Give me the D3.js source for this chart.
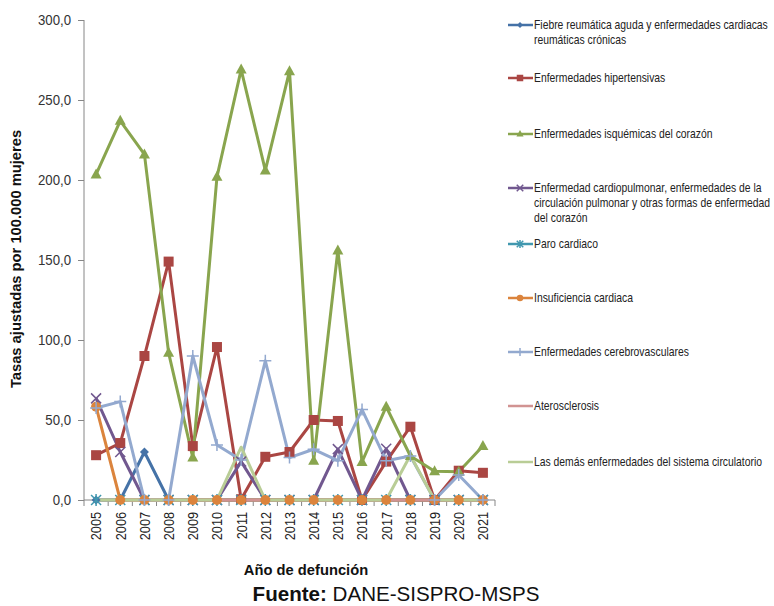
<!DOCTYPE html>
<html><head><meta charset="utf-8">
<script src="https://cdn.jsdelivr.net/npm/d3@7"></script>
<style>
body{margin:0;background:#fff;}
svg{font-family:"Liberation Sans",Arial,sans-serif;}
</style></head>
<body><svg id="c" width="774" height="606"></svg>
<script>
const years = ["2005","2006","2007","2008","2009","2010","2011","2012","2013","2014","2015","2016","2017","2018","2019","2020","2021"];
const seriesNames = [
 "Fiebre reumática aguda y enfermedades cardiacas reumáticas crónicas",
 "Enfermedades hipertensivas",
 "Enfermedades isquémicas del corazón",
 "Enfermedad cardiopulmonar, enfermedades de la circulación pulmonar y otras formas de enfermedad del corazón",
 "Paro cardiaco",
 "Insuficiencia cardiaca",
 "Enfermedades cerebrovasculares",
 "Aterosclerosis",
 "Las demás enfermedades del sistema circulatorio"
];
const fiebre      = [0,0,30,0,0,0,0,0,0,0,0,0,0,0,0,0,0];
const hipertens   = [28,35.6,90,149,33.7,95.6,0.5,27,30,50,49.4,0,24,45.8,0,18.3,17];
const isquemicas  = [203.5,237,216,92,26.5,202,269,206,268,24.5,156,23.8,58.3,27.5,18,17.7,33.8];
const cardiopulm  = [63.5,30,0,0,0,0,24,0,0,0,31.8,0,32,0,0,0,0];
const paro        = [0,0,0,0,0,0,0,0,0,0,0,0,0,0,0,0,0];
const insuf       = [58.3,0,0,0,0,0,0,0,0,0,0,0,0,0,0,0,0];
const cerebro     = [57.5,61.5,0,0,90,34.4,25,87,26.5,31.7,24.6,56.5,24.5,27.5,0,15.6,0];
const ateros      = [0,0,0,0,0,0,0,0,0,0,0,0,0,0,0,0,0];
const demas       = [0,0,0,0,0,0,33,0,0,0,0,0,0,28,0,0,0];
const yTicks = [0,50,100,150,200,250,300];

const seriesValues = [fiebre,hipertens,isquemicas,cardiopulm,paro,insuf,cerebro,ateros,demas];
const colors = ["#4572A7","#AA4643","#89A54E","#71588F","#4198AF","#DB843D","#93A9CF","#D19392","#B9CD96"];
const markers = ["diamond","square","triangle","x","asterisk","circle","plus","none","none"];

const svg = d3.select("#c");
const pL=84, pR=495, pT=20, pB=500;
const x = d3.scaleBand().domain(years).range([pL,pR]);
const y = d3.scaleLinear().domain([0,300]).range([pB,pT]);
const fmt = d => d3.format(".1f")(d).replace(".",",");

const ya = svg.append("g").attr("transform",`translate(${pL},0)`)
  .call(d3.axisLeft(y).tickValues(yTicks).tickSize(6).tickFormat(fmt));
ya.selectAll("path,line").attr("stroke","#868686");
ya.selectAll("text").attr("font-size",15).attr("fill","#333").attr("x",0)
  .attr("transform","translate(-13,0) scale(0.88,1)");
ya.select(".domain").attr("d",`M0,${pT}V${pB}`);

const xa = svg.append("g").attr("transform",`translate(0,${pB})`)
  .call(d3.axisBottom(x).tickSize(0).tickPadding(0));
xa.select(".domain").attr("stroke","#868686").attr("d",`M${pL},0H${pR}`);
xa.selectAll(".tick text").attr("font-size",15).attr("fill","#222")
  .attr("transform","rotate(-90) scale(0.85,1)").attr("text-anchor","end").attr("x",-14).attr("dy","0.36em").attr("y",0);
xa.selectAll(".bnd").data(years.concat(["end"])).enter().append("line")
  .attr("x1",(d,i)=>pL+i*x.bandwidth()).attr("x2",(d,i)=>pL+i*x.bandwidth())
  .attr("y1",0).attr("y2",6).attr("stroke","#868686");

const line = d3.line().x((d,i)=>x(years[i])+x.bandwidth()/2).y(d=>y(d));

function drawMarker(g, type, cx, cy, color, k){
  k = k||1;
  const s=4.5*k;
  if(type==="diamond") g.append("path").attr("d",`M${cx},${cy-s}L${cx+s},${cy}L${cx},${cy+s}L${cx-s},${cy}Z`).attr("fill",color);
  else if(type==="square") g.append("rect").attr("x",cx-5*k).attr("y",cy-5*k).attr("width",10*k).attr("height",10*k).attr("fill",color);
  else if(type==="triangle") g.append("path").attr("d",`M${cx},${cy-6*k}L${cx+5.5*k},${cy+4*k}L${cx-5.5*k},${cy+4*k}Z`).attr("fill",color);
  else if(type==="circle") g.append("circle").attr("cx",cx).attr("cy",cy).attr("r",5*k).attr("fill",color);
  else if(type==="x") g.append("path").attr("d",`M${cx-5*k},${cy-5*k}L${cx+5*k},${cy+5*k}M${cx-5*k},${cy+5*k}L${cx+5*k},${cy-5*k}`).attr("stroke",color).attr("stroke-width",1.5);
  else if(type==="plus") g.append("path").attr("d",`M${cx-6*k},${cy}L${cx+6*k},${cy}M${cx},${cy-6*k}L${cx},${cy+6*k}`).attr("stroke",color).attr("stroke-width",1.5);
  else if(type==="asterisk") g.append("path").attr("d",`M${cx-5*k},${cy-5*k}L${cx+5*k},${cy+5*k}M${cx-5*k},${cy+5*k}L${cx+5*k},${cy-5*k}M${cx},${cy-6*k}L${cx},${cy+6*k}`).attr("stroke",color).attr("stroke-width",1.5);
}

const linesG = svg.append("g");
const marksG = svg.append("g");
seriesValues.forEach((vals,si)=>{
  linesG.append("path").datum(vals).attr("d",line).attr("fill","none")
    .attr("stroke",colors[si]).attr("stroke-width",3).attr("stroke-linejoin","round");
  if(markers[si]!=="none"){
    const g = marksG.append("g");
    vals.forEach((v,i)=>drawMarker(g,markers[si],x(years[i])+x.bandwidth()/2,y(v),colors[si]));
  }
});

const legendY = [[25,40],[78],[134],[188,203,218],[244],[298],[352],[406],[462]];
const legendLines = [
 ["Fiebre reumática aguda y enfermedades cardiacas","reumáticas crónicas"],
 ["Enfermedades hipertensivas"],
 ["Enfermedades isquémicas del corazón"],
 ["Enfermedad cardiopulmonar, enfermedades de la","circulación pulmonar y otras formas de enfermedad","del corazón"],
 ["Paro cardiaco"],
 ["Insuficiencia cardiaca"],
 ["Enfermedades cerebrovasculares"],
 ["Aterosclerosis"],
 ["Las demás enfermedades del sistema circulatorio"]
];
const lg = svg.append("g");
seriesNames.forEach((n,i)=>{
  const ly = legendY[i][0];
  const g = lg.append("g");
  g.append("line").attr("x1",508).attr("x2",533).attr("y1",ly).attr("y2",ly).attr("stroke",colors[i]).attr("stroke-width",2.5);
  if(markers[i]!=="none") drawMarker(g,markers[i],520,ly,colors[i],0.65);
  legendLines[i].forEach((t,k)=>{
    g.append("text").attr("transform",`translate(534,${legendY[i][k]}) scale(0.83,1)`).attr("dy","0.35em")
      .attr("font-size",12.5).attr("fill","#222").text(t);
  });
});

svg.append("text").attr("transform","translate(21,259) rotate(-90) scale(0.95,1)").attr("text-anchor","middle")
  .attr("font-size",15.5).attr("font-weight","bold").attr("fill","#111")
  .text("Tasas ajustadas por 100.000 mujeres");
svg.append("text").attr("transform","translate(306,575) scale(0.95,1)").attr("text-anchor","middle")
  .attr("font-size",15.5).attr("font-weight","bold").attr("fill","#111")
  .text("Año de defunción");
const f = svg.append("text").attr("transform","translate(396,601) scale(0.98,1)").attr("text-anchor","middle")
  .attr("font-size",21).attr("fill","#111");
f.append("tspan").attr("font-weight","bold").text("Fuente: ");
f.append("tspan").text("DANE-SISPRO-MSPS");
</script></body></html>
